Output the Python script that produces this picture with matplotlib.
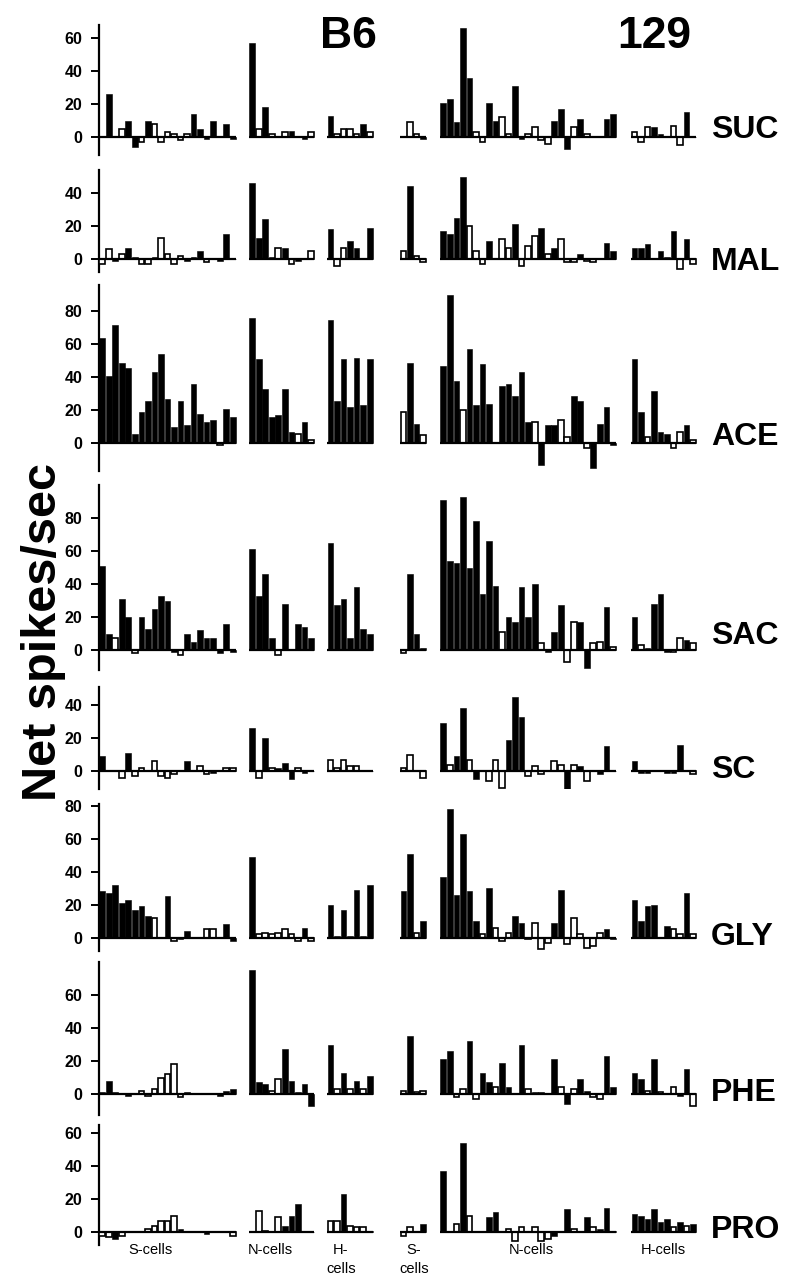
import matplotlib
matplotlib.use("Agg")
import matplotlib.pyplot as plt

plt.rcParams['font.family'] = ['Liberation Sans', 'DejaVu Sans']

ROWS = ["SUC", "MAL", "ACE", "SAC", "SC", "GLY", "PHE", "PRO"]
STRAINS = ["B6", "129"]
GROUP_LABELS = ["S-cells", "N-cells", "H-\ncells", "S-\ncells", "N-cells", "H-cells"]

# each row: [B6 S-cells, B6 N-cells, B6 H-cells, 129 S-cells, 129 N-cells, 129 H-cells]
SUC = [
    [1, 26, 0, 5, 10, -6, -3, 10, 8, -3, 3, 2, -2, 2, 14, 5, -1, 10, 0, 8, -1],
    [57, 5, 18, 2, 0, 3, 4, 1, -1, 3],
    [13, 2, 5, 5, 2, 8, 3],
    [1, 9, 2, -1],
    [21, 23, 9, 66, 36, 3, -3, 21, 10, 12, 2, 31, -1, 2, 6, -2, -4, 10, 17, -7, 6, 11, 2, 0, 0, 11, 14],
    [3, -3, 6, 6, 2, 0, 7, -5, 15, 0],
]
SUC_OPEN = [[3, 6, 8, 9, 10, 11, 12, 13], [1, 3, 5, 9], [1, 2, 3, 4, 6], [1, 2],
            [5, 6, 9, 10, 13, 14, 15, 16, 20, 22], [0, 1, 2, 6, 7]]

MAL = [
    [-3, 6, -1, 3, 7, 1, -3, -3, 1, 13, 3, -3, 2, -1, 1, 5, -2, 0, -1, 15, 0],
    [46, 13, 24, 1, 7, 7, -3, -1, 0, 5],
    [18, -4, 7, 11, 7, 0, 19],
    [5, 44, 2, -2],
    [17, 15, 25, 50, 20, 5, -3, 11, 0, 12, 7, 21, -4, 8, 14, 19, 3, 7, 12, -2, -2, 3, -1, -2, 0, 10, 5],
    [7, 7, 9, 0, 5, 1, 17, -6, 12, -3],
]
MAL_OPEN = [[0, 1, 3, 6, 7, 9, 10, 11, 12, 16], [4, 6, 9], [1, 2], [0, 2, 3],
            [4, 5, 6, 9, 10, 12, 13, 14, 16, 18, 19, 20, 22, 23], [7, 9]]

ACE = [
    [64, 41, 72, 49, 46, 6, 19, 26, 43, 54, 27, 10, 26, 11, 36, 18, 13, 14, -1, 21, 16],
    [76, 51, 33, 16, 17, 33, 7, 6, 13, 2],
    [75, 26, 51, 22, 52, 23, 51],
    [19, 49, 12, 5],
    [47, 90, 38, 20, 57, 23, 48, 24, 0, 35, 36, 29, 43, 13, 13, -13, 11, 11, 14, 4, 29, 26, -3, -15, 12, 22, -1],
    [51, 19, 4, 32, 7, 6, -3, 7, 11, 2],
]
ACE_OPEN = [[18], [7, 9], [], [0, 3], [3, 14, 18, 19, 22], [2, 6, 7, 9]]

SAC = [
    [51, 10, 7, 31, 20, -2, 20, 13, 25, 33, 30, -1, -3, 10, 5, 12, 7, 7, -2, 16, -1],
    [61, 33, 46, 7, -3, 28, 0, 16, 14, 7],
    [65, 27, 31, 7, 38, 13, 10],
    [-2, 46, 10, 1],
    [91, 54, 53, 93, 50, 78, 34, 66, 39, 11, 20, 17, 38, 20, 40, 4, -1, 11, 27, -7, 17, 17, -11, 4, 5, 26, 2],
    [20, 3, 1, 28, 34, -1, -1, 7, 6, 4],
]
SAC_OPEN = [[2, 5, 12], [4], [], [0], [9, 15, 19, 20, 23, 24, 26], [1, 6, 7, 9]]

SC = [
    [9, 1, 1, -4, 11, -3, 2, 0, 6, -3, -4, -2, 0, 6, 0, 3, -2, -1, 0, 2, 2],
    [26, -4, 20, 2, 2, 5, -5, 2, -1, 0],
    [7, 2, 7, 3, 3, 0, 0],
    [2, 10, 1, -4],
    [29, 4, 9, 38, 7, -5, 0, -6, 7, -10, 19, 45, 33, -3, 3, -2, 1, 6, 4, -11, 4, 3, -6, 0, -2, 15, 0],
    [6, -1, -1, 0, 0, -1, -1, 16, 0, -2],
]
SC_OPEN = [[3, 5, 6, 8, 9, 10, 11, 15, 16, 19, 20], [1, 3, 7], [0, 1, 2, 3, 4], [0, 1, 3],
           [1, 4, 7, 8, 9, 13, 14, 15, 17, 18, 20, 22], [9]]

GLY = [
    [28, 27, 32, 21, 23, 17, 19, 13, 12, 0, 25, -2, -1, 4, 0, 0, 5, 5, 0, 8, -2],
    [49, 2, 3, 2, 3, 5, 2, -2, 6, -2],
    [20, 1, 17, 1, 29, 1, 32],
    [28, 51, 3, 10],
    [37, 78, 26, 63, 28, 10, 2, 30, 6, -2, 3, 13, 9, -1, 9, -7, -3, 9, 29, -4, 12, 2, -6, -5, 3, 5, -1],
    [23, 10, 19, 20, 0, 7, 5, 2, 27, 2],
]
GLY_OPEN = [[8, 11, 16, 17], [1, 2, 3, 4, 5, 6, 7, 9], [], [2],
            [6, 8, 9, 10, 13, 14, 15, 16, 19, 20, 21, 22, 23, 24], [6, 7, 9]]

PHE = [
    [1, 8, 1, 0, -1, 0, 2, -1, 3, 10, 12, 18, -2, 1, 0, 0, 0, 0, -1, 2, 3],
    [75, 7, 6, 2, 9, 27, 8, 1, 6, -7],
    [30, 3, 13, 3, 8, 3, 11],
    [2, 35, 1, 2],
    [21, 26, -2, 3, 32, -3, 13, 7, 4, 19, 4, 0, 30, 3, 1, 1, 0, 21, 4, -6, 3, 9, 2, -2, -3, 23, 4],
    [13, 9, 2, 21, 1, 0, 4, -1, 15, -7],
]
PHE_OPEN = [[6, 7, 8, 9, 10, 11, 12], [3, 4], [1, 3, 5], [0, 2, 3],
            [2, 3, 5, 8, 13, 18, 20, 23, 24], [2, 4, 6, 9]]

PRO = [
    [-2, -3, -4, -2, 1, 0, 1, 2, 4, 7, 7, 10, 2, 1, 0, 1, -1, 0, 1, 0, -2],
    [1, 13, 1, 0, 9, 4, 10, 17, 1, 0],
    [7, 7, 23, 4, 3, 3, 1],
    [-2, 3, 1, 5],
    [37, 1, 5, 54, 10, 0, 0, 9, 12, 1, 2, -5, 3, 1, 3, -5, -4, -2, 0, 14, 2, 1, 9, 3, 2, 15, 1],
    [11, 10, 8, 14, 6, 8, 3, 6, 4, 5],
]
PRO_OPEN = [[0, 1, 3, 7, 8, 9, 10, 11, 20], [1, 2, 4], [0, 1, 3, 4, 5], [0, 1],
            [2, 4, 10, 11, 12, 14, 15, 16, 20, 23], [6, 8]]

SUC_TICKS = [0, 20, 40, 60]
MAL_TICKS = [0, 20, 40]
ACE_TICKS = [0, 20, 40, 60, 80]
SAC_TICKS = [0, 20, 40, 60, 80]
SC_TICKS = [0, 20, 40]
GLY_TICKS = [0, 20, 40, 60, 80]
PHE_TICKS = [0, 20, 40, 60]
PRO_TICKS = [0, 20, 40, 60]

ROW_VALUES = [SUC, MAL, ACE, SAC, SC, GLY, PHE, PRO]
ROW_OPEN = [SUC_OPEN, MAL_OPEN, ACE_OPEN, SAC_OPEN, SC_OPEN, GLY_OPEN, PHE_OPEN, PRO_OPEN]
ROW_TICKS = [SUC_TICKS, MAL_TICKS, ACE_TICKS, SAC_TICKS, SC_TICKS, GLY_TICKS, PHE_TICKS, PRO_TICKS]

# ---- layout (pixels) ----
W, H = 800, 1288
PX_PER_UNIT = 1.65
LEFT_PX, RIGHT_PX = 99, 699
XMAX = 92.0
GROUP_START = [0, 23, 35, 46.2, 52.3, 81.6]
ROW_TOP = [25, 170, 285, 485, 687, 804, 962, 1125]
ROW_YLIM = [(-11, 68), (-8, 54), (-17, 96), (-12, 100), (-11, 51), (-8, 81), (-13, 80), (-8, 65)]
ROW_LABEL_Y = [130, 262, 437, 636, 770, 937, 1093, 1230]

fig = plt.figure(figsize=(W / 100, H / 100), dpi=100)

for r, name in enumerate(ROWS):
    lo, hi = ROW_YLIM[r]
    h_px = (hi - lo) * PX_PER_UNIT
    top = ROW_TOP[r]
    ax = fig.add_axes([LEFT_PX / W, 1 - (top + h_px) / H, (RIGHT_PX - LEFT_PX) / W, h_px / H])
    ax.set_xlim(0, XMAX)
    ax.set_ylim(lo, hi)
    for g, vals in enumerate(ROW_VALUES[r]):
        x0 = GROUP_START[g]
        opens = set(ROW_OPEN[r][g])
        fx = [x0 + i + 0.06 for i in range(len(vals)) if i not in opens]
        fv = [v for i, v in enumerate(vals) if i not in opens]
        ox = [x0 + i + 0.06 for i in range(len(vals)) if i in opens]
        ov = [v for i, v in enumerate(vals) if i in opens]
        ax.bar(fx, fv, width=0.88, align='edge', color='black',
               edgecolor='black', linewidth=0.4, zorder=3)
        ax.bar(ox, ov, width=0.88, align='edge', color='white',
               edgecolor='black', linewidth=1.2, zorder=3)
        ax.hlines(0, x0, x0 + len(vals), color='black', linewidth=1.6, zorder=4)
    for side in ['top', 'right', 'bottom']:
        ax.spines[side].set_visible(False)
    ax.spines['left'].set_linewidth(1.6)
    ax.set_xticks([])
    ax.set_yticks(ROW_TICKS[r])
    ax.tick_params(axis='y', direction='out', length=6, width=1.4, pad=6, labelsize=11.5)
    for lab in ax.get_yticklabels():
        lab.set_fontweight('bold')
    ax.patch.set_alpha(0)
    fig.text(711 / W, 1 - ROW_LABEL_Y[r] / H, name, fontsize=23, fontweight='bold',
             ha='left', va='center')

# strain titles
fig.text(320 / W, 1 - 37 / H, STRAINS[0], fontsize=32, fontweight='bold', ha='left', va='center')
fig.text(617 / W, 1 - 37 / H, STRAINS[1], fontsize=32, fontweight='bold', ha='left', va='center')

# group labels at bottom
LABEL_X = [150, 270, 341, 414, 531, 663]
for lbl, xp in zip(GROUP_LABELS, LABEL_X):
    fig.text(xp / W, 1 - 1243 / H, lbl, fontsize=10.5, ha='center', va='top', linespacing=1.45)

# y label
fig.text(44 / W, 1 - 632 / H, "Net spikes/sec", fontsize=35, fontweight='bold',
         rotation=90, ha='center', va='center')

fig.savefig("out.png", dpi=100)
